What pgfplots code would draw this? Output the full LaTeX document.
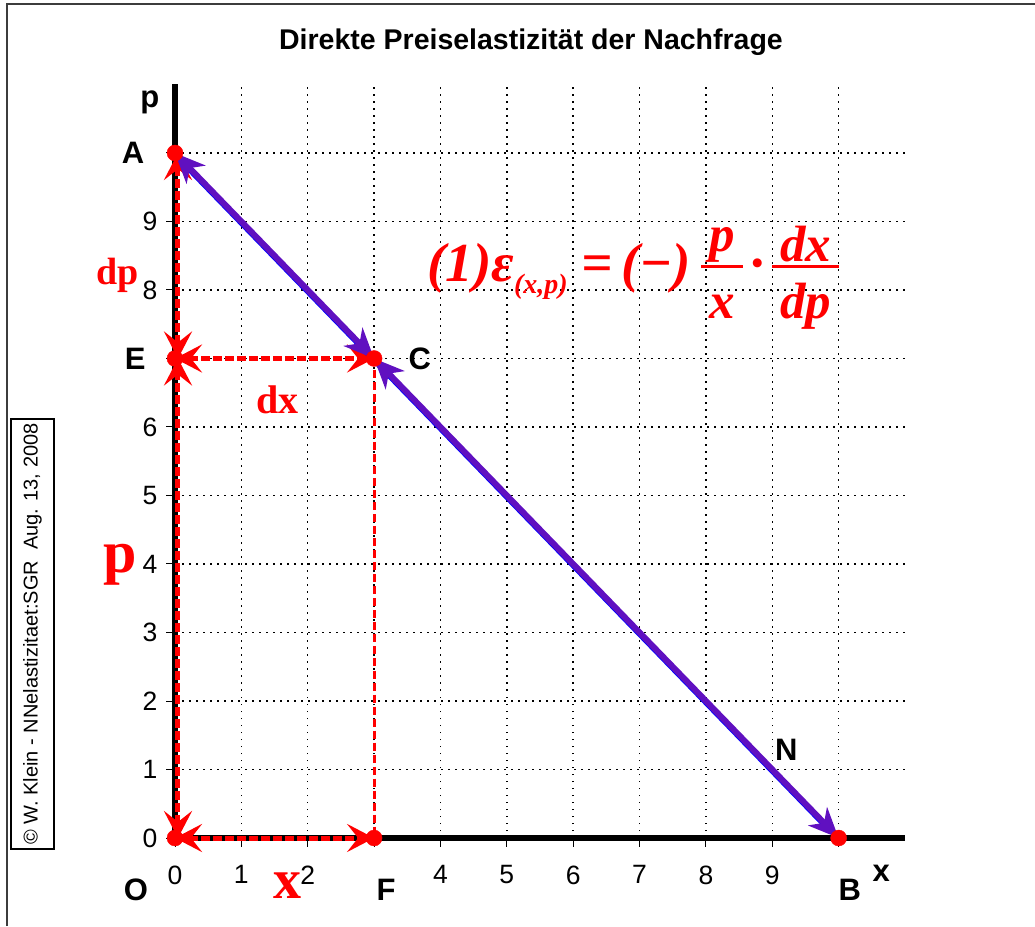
\documentclass[border=0pt]{standalone}
\usepackage{fontspec}
\setmainfont{Liberation Sans}
\newfontfamily\tms{Liberation Serif}
\usepackage{pgfplots}
\pgfplotsset{compat=1.18}
\usetikzlibrary{arrows.meta}
\definecolor{purp}{RGB}{96,16,192}
\definecolor{framec}{RGB}{60,60,60}
\newdimen\frw \newdimen\frd \newbox\frbA \newbox\frbB
\newcommand\fr[2]{%
  \setbox\frbA=\hbox{\fontsize{51}{54}\selectfont #1}%
  \setbox\frbB=\hbox{\fontsize{51}{54}\selectfont #2}%
  \frw=\wd\frbA \ifdim\wd\frbB>\frw \frw=\wd\frbB \fi
  \advance\frw by 16pt
  \frd=\dp\frbA \advance\frd by 4.5pt
  \raisebox{15pt}{%
    \rlap{\raisebox{\frd}{\hbox to \frw{\hss\box\frbA\hss}}}%
    \rlap{\raisebox{-1.5pt}{\rule{\frw}{3pt}}}%
    \raisebox{-52pt}{\hbox to \frw{\hss\box\frbB\hss}}}}
\begin{document}
\begin{tikzpicture}[x=1pt,y=1pt]
\useasboundingbox (0,0) rectangle (1035,926);
\draw[framec, line width=2pt] (7,0) -- (7,922) -- (1035,922);
\node[draw, line width=1.2pt, minimum width=430pt, minimum height=43pt, inner sep=0pt, rotate=90, font=\fontsize{20}{22}\selectfont] at (32.5,292) {© W. Klein - NNelastizitaet:SGR\ \ Aug. 13, 2008};
\node[font=\bfseries\fontsize{28.5}{31}\selectfont] at (531,884) {Direkte Preiselastizität der Nachfrage};
\begin{axis}[at={(175pt,88pt)}, anchor=south west, scale only axis,
  width=730pt, height=753.5pt,
  xmin=0, xmax=11, ymin=0, ymax=11,
  axis lines=left, axis line style={-, line width=6pt, black},
  clip=false,
  xtick={0,...,10}, ytick={0,...,10},
  xticklabels={0,1,2,,4,5,6,7,8,9,},
  yticklabels={0,1,2,3,4,5,6,,8,9,},
  grid=major, grid style={black, line width=1.5pt, dash pattern=on 1.5pt off 5.5pt},
  tick style={black, line width=1pt}, major tick length=9pt, tick align=outside,
  /pgf/number format/assume math mode=true,
  ticklabel style={font=\fontsize{26.5}{29}\selectfont},
  xticklabel style={yshift=-15pt},
  yticklabel style={xshift=-5pt},
]
% red dashed lines
\addplot[red, line width=3pt, dash pattern=on 8pt off 4pt] coordinates {(3,7) (3,0)};
\addplot[red, line width=5pt, dash pattern=on 9pt off 3pt, {Stealth[length=27pt,width=28pt,inset=11pt]}-{Stealth[length=27pt,width=28pt,inset=11pt]}] coordinates {(0.045,0) (0.045,7)};
\addplot[red, line width=5pt, dash pattern=on 9pt off 3pt, {Stealth[length=27pt,width=28pt,inset=11pt]}-{Stealth[length=27pt,width=28pt,inset=11pt]}] coordinates {(0.045,7) (0.045,10)};
\addplot[red, line width=5pt, dash pattern=on 9pt off 3pt, {Stealth[length=27pt,width=28pt,inset=11pt]}-{Stealth[length=27pt,width=28pt,inset=11pt]}] coordinates {(0,7) (3,7)};
\addplot[red, line width=5pt, dash pattern=on 9pt off 3pt, {Stealth[length=27pt,width=28pt,inset=11pt]}-{Stealth[length=27pt,width=28pt,inset=11pt]}] coordinates {(0,0) (3,0)};
% points
\addplot[only marks, mark=*, mark size=8pt, red] coordinates {(0,10) (0,7) (3,7) (0,0) (3,0) (10,0)};
% demand line
\addplot[blue, line width=2pt, shift={(-2pt,-2pt)}] coordinates {(0.1,9.9) (9.9,0.1)};
\addplot[purp, line width=6pt, {Stealth[length=30pt,width=26pt,inset=9pt]}-{Stealth[length=30pt,width=26pt,inset=9pt]}] coordinates {(0,10) (3,7)};
\addplot[purp, line width=6pt, {Stealth[length=30pt,width=26pt,inset=9pt]}-{Stealth[length=30pt,width=26pt,inset=9pt]}] coordinates {(3,7) (10,0)};
% labels
\begin{scope}[font=\bfseries\fontsize{31}{33}\selectfont]
\node at (axis cs:-0.38,10.74) {p};
\node at (axis cs:-0.63,10) {A};
\node at (axis cs:-0.6,7) {E};
\node at (axis cs:3.69,7) {C};
\node at (axis cs:-0.59,-0.76) {O};
\node at (axis cs:3.18,-0.76) {F};
\node at (axis cs:10.17,-0.76) {B};
\node at (axis cs:9.21,1.28) {N};
\node at (axis cs:10.64,-0.51) {x};
\end{scope}
\begin{scope}[red]
\node[font=\tms\bfseries\fontsize{38}{42}\selectfont, inner sep=0pt] at (axis cs:-0.86,8.22) {dp};
\node[font=\tms\bfseries\fontsize{40}{44}\selectfont] at (axis cs:1.55,6.39) {dx};
\node[font=\tms\bfseries\fontsize{60}{64}\selectfont] at (axis cs:-0.83,3.99) {p};
\node[font=\tms\bfseries\fontsize{56}{60}\selectfont] at (axis cs:1.69,-0.69) {x};
\node[anchor=base west, inner sep=0pt, font=\tms\bfseries\itshape\fontsize{55}{60}\selectfont] at (axis cs:3.80,8.12) {(1)ε\raisebox{-12pt}{\fontsize{28}{30}\selectfont(x,p)}\hspace{14pt}=\hspace{8pt}(−)\hspace{10pt}\fr{p}{x}\hspace{8pt}·\hspace{8pt}\fr{dx}{dp}};
\end{scope}
\end{axis}
\end{tikzpicture}
\end{document}
